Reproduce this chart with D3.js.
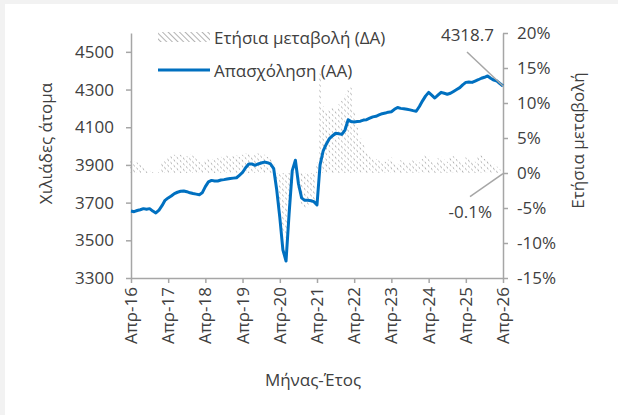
<!DOCTYPE html>
<html>
<head>
<meta charset="utf-8">
<script src="https://cdn.jsdelivr.net/npm/d3@7"></script>
<style>
  body { margin: 0; background: #f2f2f2; overflow: hidden; }
  svg { display: block; }
  svg text { font-family: "Open Sans", Lato, sans-serif; font-size: 17px; fill: #404040; }
  .axis path, .axis line { stroke: #a6a6a6; stroke-width: 1.5; }
</style>
</head>
<body>
<div id="viz"></div>
<script>
const width = 618;
const height = 415;

// monthly data, Apr-2016 .. Apr-2026
const startMonth = new Date(2016, 3, 1);
const employment = [
  3655, 3652, 3658, 3662, 3668, 3665, 3668, 3655, 3645,
  3660, 3685, 3712, 3725, 3735, 3748, 3755, 3760, 3762, 3758, 3752, 3748,
  3745, 3742, 3752, 3785, 3810, 3818, 3815, 3815, 3820, 3822, 3825, 3828,
  3830, 3832, 3845, 3860, 3885, 3905, 3905, 3898, 3905, 3910, 3915, 3912,
  3905, 3880, 3770, 3620, 3450, 3390, 3640, 3870, 3925, 3800, 3725, 3712,
  3712, 3710, 3705, 3688, 3900, 3975, 4010, 4040, 4055, 4068, 4065, 4062,
  4085, 4140, 4130, 4128, 4130, 4132, 4138, 4140, 4148, 4155, 4158, 4165,
  4172, 4175, 4180, 4182, 4195, 4205, 4200, 4198, 4195, 4192, 4188, 4185,
  4210, 4240, 4265, 4285, 4270, 4255, 4270, 4285, 4280, 4275, 4280, 4290,
  4300, 4310, 4325, 4338, 4340, 4338, 4345, 4352, 4360, 4365, 4372, 4360,
  4350, 4345, 4332, 4318.7
];
const yoyChange = [
  1.8, 1.7, 1.5, 1.2, 0.9, 0.6, 0.3, 0.1, 0.0,
  0.5, 1.5, 2.0, 2.2, 2.4, 2.6, 2.7, 2.6, 2.5, 2.4, 2.6, 2.5,
  2.2, 1.6, 1.4, 1.8, 2.1, 2.0, 1.9, 2.1, 2.3, 2.2, 2.5, 2.4,
  2.4, 2.5, 2.3, 2.6, 2.8, 2.7, 2.5, 2.6, 2.8, 2.7, 2.6, 2.3,
  2.0, 1.2, -0.8, -5.0, -8.5, -9.2, -6.0, -1.5, 0.5, -2.8, -4.5, -5.0,
  -5.0, -4.5, -4.2, 1.5, 14.2, 9.5, 8.8, 9.0, 9.3, 9.0, 9.8, 10.3,
  11.2, 11.8, 12.2, 8.8, 6.5, 5.0, 4.0, 3.0, 2.5, 2.2, 2.0, 1.8,
  1.7, 1.6, 1.9, 2.2, 1.5, 1.3, 1.8, 1.6, 1.2, 1.5, 2.1, 1.8,
  1.5, 2.0, 2.6, 2.4, 1.7, 1.3, 2.1, 2.3, 1.9, 1.6, 2.2, 2.4,
  2.0, 1.7, 1.5, 2.2, 2.0, 1.8, 1.6, 2.3, 2.5, 2.0, 1.9, 1.6,
  1.2, 0.9, 0.5, -0.1
];
const xTickYears = [2016, 2017, 2018, 2019, 2020, 2021, 2022, 2023, 2024, 2025, 2026];
const leftTicks = [3300, 3500, 3700, 3900, 4100, 4300, 4500];
const rightTicks = [-15, -10, -5, 0, 5, 10, 15, 20];
const greekMonths = ["Ιαν", "Φεβ", "Μαρ", "Απρ", "Μαϊ", "Ιουν", "Ιουλ", "Αυγ", "Σεπ", "Οκτ", "Νοε", "Δεκ"];

const data = employment.map((v, i) => ({
  date: d3.timeMonth.offset(startMonth, i),
  emp: v,
  yoy: yoyChange[i]
}));
const lastPoint = data[data.length - 1];
const xTicks = xTickYears.map(y => new Date(y, 3, 1));

// plain hyphen for negatives, like the original
const pct = d => String(d).replace("−", "-") + "%";
const monthLabel = d => greekMonths[d.getMonth()] + "-" + d3.timeFormat("%y")(d);

const margin = { top: 33, right: 115, left: 131, bottom: 137 };
const innerWidth = width - margin.left - margin.right;
const innerHeight = height - margin.top - margin.bottom;

const svg = d3.select("#viz")
  .append("svg")
  .attr("width", width)
  .attr("height", height);

svg.append("rect")
  .attr("x", 5).attr("y", 4)
  .attr("width", width - 5).attr("height", height - 4)
  .attr("fill", "#ffffff");

const defs = svg.append("defs");
const pattern = defs.append("pattern")
  .attr("id", "hatch")
  .attr("patternUnits", "userSpaceOnUse")
  .attr("width", 4).attr("height", 4)
  .attr("patternTransform", "rotate(-45)");
pattern.append("line")
  .attr("x1", 0).attr("y1", 0).attr("x2", 0).attr("y2", 4)
  .attr("stroke", "#808080").attr("stroke-width", 1.2);

const xScale = d3.scaleTime()
  .domain([data[0].date, lastPoint.date])
  .range([0, innerWidth]);

const yLeft = d3.scaleLinear().domain([3300, 4600]).range([innerHeight, 0]);
const yRight = d3.scaleLinear().domain([-15, 20]).range([innerHeight, 0]);

const g = svg.append("g")
  .attr("transform", `translate(${margin.left}, ${margin.top})`);

// bars (yearly change)
const barW = innerWidth / (data.length - 1) * 0.45;
g.selectAll(".bar")
  .data(data)
  .enter()
  .append("rect")
  .attr("class", "bar")
  .attr("x", d => xScale(d.date) - barW / 2)
  .attr("y", d => yRight(Math.max(0, d.yoy)))
  .attr("width", barW)
  .attr("height", d => Math.abs(yRight(d.yoy) - yRight(0)))
  .attr("fill", "url(#hatch)");

// axes (lines and ticks from d3, labels written below)
g.append("g")
  .attr("class", "axis")
  .attr("transform", `translate(0, ${innerHeight})`)
  .call(d3.axisBottom(xScale).tickValues(xTicks).tickSize(5).tickSizeOuter(0))
  .selectAll(".tick text").remove();

g.append("g")
  .attr("class", "axis")
  .call(d3.axisLeft(yLeft).tickValues(leftTicks).tickSize(5).tickSizeOuter(0))
  .selectAll(".tick text").remove();

g.append("g")
  .attr("class", "axis")
  .attr("transform", `translate(${innerWidth}, 0)`)
  .call(d3.axisRight(yRight).tickValues(rightTicks).tickSize(5).tickSizeOuter(0))
  .selectAll(".tick text").remove();

g.selectAll(".x-label")
  .data(xTicks)
  .enter()
  .append("text")
  .attr("class", "x-label")
  .attr("transform", d => `translate(${xScale(d) + 6}, ${innerHeight + 9}) rotate(-90)`)
  .attr("text-anchor", "end")
  .text(monthLabel);

g.selectAll(".yl-label")
  .data(leftTicks)
  .enter()
  .append("text")
  .attr("class", "yl-label")
  .attr("x", -17)
  .attr("y", d => yLeft(d) + 6)
  .attr("text-anchor", "end")
  .text(d3.format("d"));

g.selectAll(".yr-label")
  .data(rightTicks)
  .enter()
  .append("text")
  .attr("class", "yr-label")
  .attr("x", innerWidth + 14)
  .attr("y", d => yRight(d) + 6)
  .text(pct);

// employment line
const lineGenerator = d3.line()
  .x(d => xScale(d.date))
  .y(d => yLeft(d.emp));

g.append("path")
  .attr("d", lineGenerator(data))
  .attr("fill", "none")
  .attr("stroke", "#0070c0")
  .attr("stroke-width", 3)
  .attr("stroke-linejoin", "round");

// annotations
const lx = xScale(lastPoint.date);
g.append("line")
  .attr("x1", lx - 36).attr("y1", yLeft(lastPoint.emp) - 34)
  .attr("x2", lx).attr("y2", yLeft(lastPoint.emp))
  .attr("stroke", "#a6a6a6").attr("stroke-width", 1.5);
g.append("text")
  .attr("x", lx - 9).attr("y", yLeft(lastPoint.emp) - 45)
  .attr("text-anchor", "end")
  .text(d3.format(".1f")(lastPoint.emp));

g.append("line")
  .attr("x1", lx - 33).attr("y1", yRight(lastPoint.yoy) + 23)
  .attr("x2", lx).attr("y2", yRight(lastPoint.yoy))
  .attr("stroke", "#a6a6a6").attr("stroke-width", 1.5);
g.append("text")
  .attr("x", lx - 11).attr("y", yRight(lastPoint.yoy) + 44)
  .attr("text-anchor", "end")
  .text(pct(d3.format(".1f")(lastPoint.yoy)));

// axis titles
svg.append("text")
  .attr("transform", `translate(52, ${margin.top + innerHeight / 2 - 12}) rotate(-90)`)
  .attr("text-anchor", "middle")
  .text("Χιλιάδες άτομα");

svg.append("text")
  .attr("transform", `translate(584, ${margin.top + innerHeight / 2 - 15}) rotate(-90)`)
  .attr("text-anchor", "middle")
  .text("Ετήσια μεταβολή");

svg.append("text")
  .attr("x", 313).attr("y", 386)
  .attr("text-anchor", "middle")
  .text("Μήνας-Έτος");

// legend
const legend = svg.append("g").attr("transform", "translate(158, 0)");
legend.append("rect")
  .attr("x", 0).attr("y", 32).attr("width", 52).attr("height", 10)
  .attr("fill", "url(#hatch)");
legend.append("text")
  .attr("x", 56).attr("y", 44)
  .text("Ετήσια μεταβολή (ΔΑ)");
legend.append("line")
  .attr("x1", 0).attr("x2", 52).attr("y1", 70).attr("y2", 70)
  .attr("stroke", "#0070c0").attr("stroke-width", 3);
legend.append("text")
  .attr("x", 56).attr("y", 77)
  .text("Απασχόληση (ΑΑ)");
</script>
</body>
</html>
